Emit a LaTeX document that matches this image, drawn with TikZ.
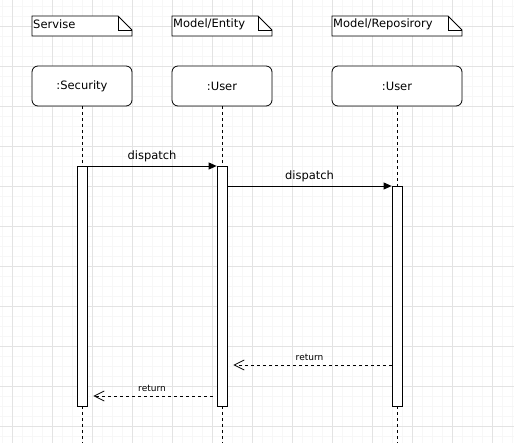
\documentclass[tikz,border=0pt]{standalone}
\usepackage{fontspec}
\setmainfont{DejaVu Sans}
\usetikzlibrary{arrows.meta}
\begin{document}
\begin{tikzpicture}[x=1pt,y=-1pt,
    minorgrid/.style={draw=gray!6,line width=0.8pt},
    majorgrid/.style={draw=gray!22,line width=0.8pt},
    headbox/.style={draw,fill=white,line width=0.8pt,rounded corners=6pt,
        minimum width=100pt,minimum height=40pt,inner sep=0pt,
        font=\fontsize{11.5}{13}\selectfont},
    notetext/.style={anchor=west,inner sep=1pt,font=\fontsize{11.5}{13}\selectfont},
    actbar/.style={draw,fill=white,line width=0.8pt,minimum width=10pt,inner sep=0pt},
    lifeline/.style={line width=0.8pt,dash pattern=on 3pt off 3pt},
    call/.style={line width=0.8pt,-{Triangle[length=8pt,width=7pt]}},
    reply/.style={line width=0.8pt,dash pattern=on 3pt off 3pt,
        -{Straight Barb[length=10pt,width=10pt,line width=0.8pt]}},
    msg/.style={font=\fontsize{11.5}{13}\selectfont},
    retmsg/.style={font=\fontsize{9}{11}\selectfont}]
    \useasboundingbox (0,0) rectangle (514,443);
    \fill[white] (0,0) rectangle (514,443);

    % grid
    \foreach \gx in {2,12,...,512} \draw[minorgrid] (\gx,0) -- (\gx,443);
    \foreach \gy in {6,16,...,442} \draw[minorgrid] (0,\gy) -- (514,\gy);
    \foreach \gx in {12,52,...,512} \draw[majorgrid] (\gx,0) -- (\gx,443);
    \foreach \gy in {26,66,...,442} \draw[majorgrid] (0,\gy) -- (514,\gy);

    \coordinate (Bot) at (0,443);

    % lifeline heads
    \node [headbox] (HSec) at (82,86) {:Security};
    \node [headbox] (HEnt) at (222,86) {:User};
    \node [headbox, minimum width=130pt] (HRep) at (397,86) {:User};

    % lifelines
    \draw[lifeline] (HSec.south) -- (HSec.south |- Bot);
    \draw[lifeline] (HEnt.south) -- (HEnt.south |- Bot);
    \draw[lifeline] (HRep.south) -- (HRep.south |- Bot);

    % activations
    \node [actbar, minimum height=240pt, anchor=north] (ASec) at (82,166) {};
    \node [actbar, minimum height=240pt, anchor=north] (AEnt) at (222,166) {};
    \node [actbar, minimum height=220pt, anchor=north] (ARep) at (397,186) {};

    % notes
    \foreach \nl/\nr/\nt in {32/132/{Servise}, 172/272/{Model/Entity}, 332/462/{Model/Reposirory}} {
        \draw[fill=white,line width=0.8pt] (\nl,36) -- (\nl,16) -- (\nr-14,16) -- (\nr,30) -- (\nr,36) -- cycle;
        \draw[line width=0.8pt] (\nr-14,16) -- (\nr-14,30) -- (\nr,30);
        \node [notetext] at (\nl,24) {\nt};
    }

    % messages
    \draw[call] (ASec.north east) -- (AEnt.north west) node [midway,above=0.5pt,msg] {dispatch};
    \draw[call] (AEnt.east |- ARep.north) -- (ARep.north west) node [midway,above=0.5pt,msg] {dispatch};
    \coordinate (R1) at (0,365);
    \coordinate (R2) at (0,396);
    \draw[reply, shorten >= 6pt] (ARep.west |- R1) -- (AEnt.east |- R1) node [midway,above=0.5pt,retmsg] {return};
    \draw[reply, shorten <= 4pt, shorten >= 6pt] (AEnt.west |- R2) -- (ASec.east |- R2) node [midway,above=0.5pt,retmsg] {return};
\end{tikzpicture}
\end{document}
